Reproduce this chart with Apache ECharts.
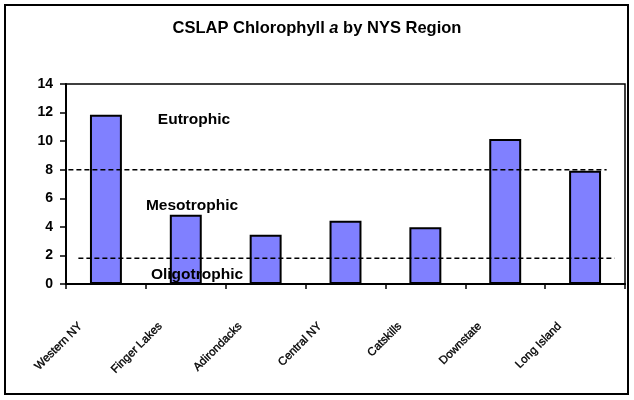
<!DOCTYPE html>
<html>
<head>
<meta charset="utf-8">
<script src="https://cdn.jsdelivr.net/npm/echarts@6/dist/echarts.min.js"></script>
<style>
  html, body { margin: 0; padding: 0; background: #fff; }
  #chart { width: 634px; height: 400px; }
</style>
</head>
<body>
<div id="chart"></div>
<script>
// Regions and mean chlorophyll a (µg/L)
const regions = ['Western NY', 'Finger Lakes', 'Adirondacks', 'Central NY', 'Catskills', 'Downstate', 'Long Island'];
const chlorophyll = [11.85, 4.84, 3.45, 4.43, 3.98, 10.15, 7.93];

// Trophic thresholds (value, start and end along the category span)
const eutrophicLimit = [[0.03, 8.0], [6.77, 8.0]];
const oligotrophicLimit = [[0.155, 1.8], [6.87, 1.8]];

const yTicks = { min: 0, max: 14, interval: 2 };

const chart = echarts.init(document.getElementById('chart'), null, { renderer: 'canvas' });

const dashed = { color: '#000', width: 1.6, type: [5, 3] };
const zoneText = { fill: '#000', font: 'bold 15.5px Arial, "Liberation Sans", sans-serif', textAlign: 'center', textVerticalAlign: 'middle' };

chart.setOption({
  animation: false,
  backgroundColor: '#fff',
  title: {
    left: 'center',
    top: 15,
    text: '{n|CSLAP Chlorophyll }{i|a}{n| by NYS Region}',
    textStyle: {
      rich: {
        n: { fontFamily: 'Arial, "Liberation Sans", sans-serif', fontWeight: 'bold', fontSize: 16.5, color: '#000' },
        i: { fontFamily: 'Arial, "Liberation Sans", sans-serif', fontWeight: 'bold', fontStyle: 'italic', fontSize: 16.5, color: '#000' }
      }
    }
  },
  grid: {
    left: 66, right: 9, top: 84, bottom: 116,
    show: true, borderColor: '#000', borderWidth: 1.5, backgroundColor: 'transparent'
  },
  xAxis: [
    {
      type: 'category',
      data: regions,
      axisLine: { lineStyle: { color: '#000', width: 2 } },
      axisTick: { show: true, length: 5, lineStyle: { color: '#000', width: 1.5 } },
      axisLabel: {
        rotate: 45,
        interval: 0,
        margin: 15,
        color: '#000',
        fontFamily: 'Arial, "Liberation Sans", sans-serif',
        fontSize: 11.5,
        textBorderColor: '#000',
        textBorderWidth: 0.35,
        padding: [0, 36, 0, 0]
      }
    },
    { type: 'value', min: 0, max: 7, show: false }
  ],
  yAxis: {
    type: 'value',
    min: yTicks.min, max: yTicks.max, interval: yTicks.interval,
    splitLine: { show: false },
    axisLine: { show: true, lineStyle: { color: '#000', width: 2 } },
    axisTick: { show: true, length: 6, lineStyle: { color: '#000', width: 1.5 } },
    axisLabel: {
      margin: 13,
      color: '#000',
      fontFamily: 'Arial, "Liberation Sans", sans-serif',
      fontWeight: 'bold',
      fontSize: 14
    }
  },
  series: [
    {
      type: 'bar',
      data: chlorophyll,
      barCategoryGap: '60%',
      itemStyle: { color: '#8080FF', borderColor: '#000', borderWidth: 2 },
      z: 2
    },
    {
      type: 'line', xAxisIndex: 1, data: eutrophicLimit,
      symbol: 'none', lineStyle: dashed, z: 3
    },
    {
      type: 'line', xAxisIndex: 1, data: oligotrophicLimit,
      symbol: 'none', lineStyle: dashed, z: 3
    }
  ],
  graphic: [
    { type: 'rect', shape: { x: 5, y: 5, width: 623, height: 389 }, style: { fill: 'none', stroke: '#000', lineWidth: 2 }, z: 10 },
    { type: 'text', x: 194, y: 120, style: Object.assign({ text: 'Eutrophic' }, zoneText), z: 10 },
    { type: 'text', x: 192, y: 206, style: Object.assign({ text: 'Mesotrophic' }, zoneText), z: 10 },
    { type: 'text', x: 197, y: 275, style: Object.assign({ text: 'Oligotrophic' }, zoneText), z: 10 }
  ]
});
</script>
</body>
</html>
